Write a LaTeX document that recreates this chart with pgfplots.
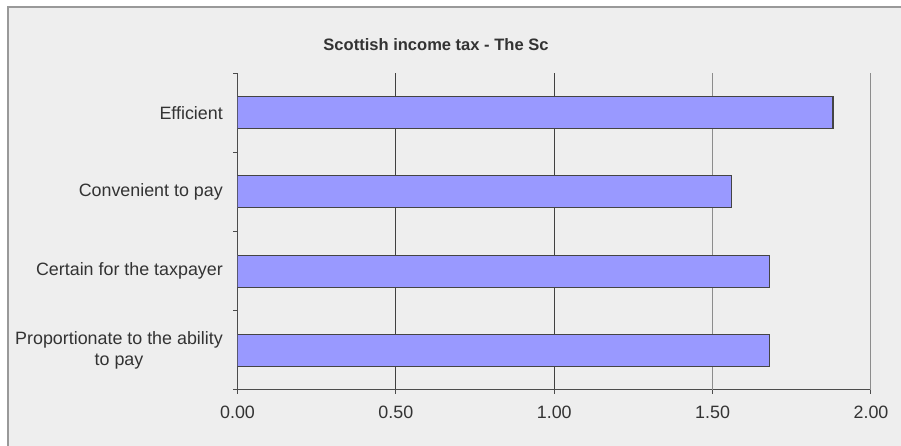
\documentclass[border=0pt]{standalone}
\usepackage{pgfplots}
\pgfplotsset{compat=1.18}
\usepackage{fontspec}
\setmainfont{Liberation Sans}
\newlength\px \setlength\px{0.75pt}
\definecolor{bg}{HTML}{EEEEEE}
\definecolor{txt}{HTML}{333333}
\definecolor{barfill}{HTML}{9999FF}
\definecolor{baredge}{HTML}{444444}
\definecolor{frame}{HTML}{999999}
\begin{document}
\begin{tikzpicture}
\begin{scope}[x=\px,y=\px]
\useasboundingbox (0,0) rectangle (901,446);
\fill[white] (0,0) rectangle (901,446);
\fill[bg] (8,0) rectangle (901,439);
\draw[frame, line width=1.5\px] (8,0) -- (8,439) -- (901,439);
\node[font=\bfseries\fontsize{12.4}{14}\selectfont, text=txt] at (436,401) {Scottish income tax - The Sc};
\end{scope}
\begin{axis}[
  at={(237.5\px,56\px)}, anchor=south west,
  scale only axis, width=633.5\px, height=317\px,
  xbar, bar width=24pt,
  xmin=0, xmax=2, ymin=-0.5, ymax=3.5,
  axis x line*=bottom, axis y line*=left,
  axis line style={draw=black!70, line width=0.75pt},
  tick align=outside, major tick length=4\px,
  xtick={0,0.5,1}, extra x ticks={1.5,2},
  extra x tick style={major grid style={draw=black!45, line width=0.75pt}},
  xmajorgrids, major grid style={draw=black!75, line width=0.75pt},
  x tick style={draw=black!70, line width=0.75pt},
  xticklabel style={font=\fontsize{13.4}{15}\selectfont, text=txt, yshift=-7\px},
  /pgf/number format/.cd, fixed, fixed zerofill, precision=2, assume math mode=true, /pgfplots/.cd,
  ytick={0,1,2,3},
  yticklabels={{Proportionate to the ability\\to pay},{Certain for the taxpayer},{Convenient to pay},{Efficient}},
  y tick style={draw=none},
  extra y ticks={-0.5,0.5,1.5,2.5,3.5}, extra y tick labels={},
  extra y tick style={y tick style={draw=black!70, line width=0.75pt}},
  yticklabel style={font=\fontsize{13.4}{15.5}\selectfont, text=txt, align=center, xshift=-6\px},
]
\addplot[fill=barfill, draw=baredge, line width=0.9pt] coordinates {(1.68,0) (1.68,1) (1.56,2) (1.88,3)};
\end{axis}
\end{tikzpicture}
\end{document}
